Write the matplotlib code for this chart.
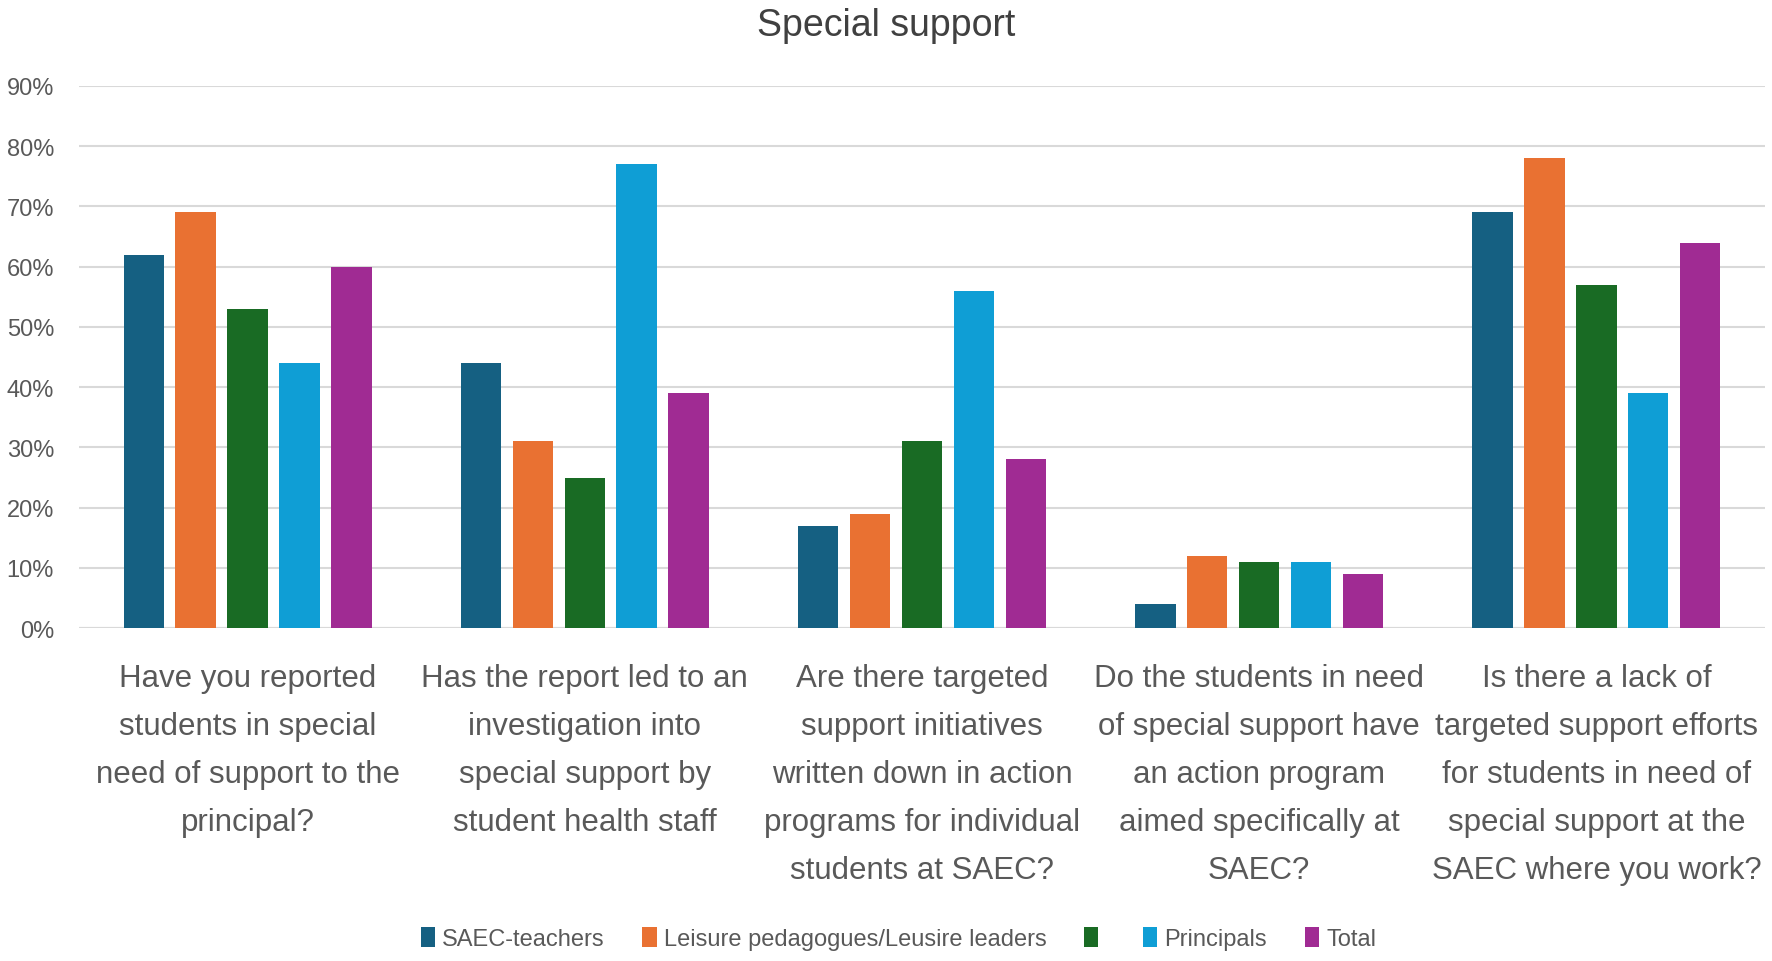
import numpy as np
import matplotlib
matplotlib.use("Agg")
import matplotlib.pyplot as plt
from matplotlib.ticker import PercentFormatter

plt.rcParams['font.family'] = ['Liberation Sans Narrow', 'Liberation Sans', 'DejaVu Sans']

questions = [
    "Have you reported\nstudents in special\nneed of support to the\nprincipal?",
    "Has the report led to an\ninvestigation into\nspecial support by\nstudent health staff",
    "Are there targeted\nsupport initiatives\nwritten down in action\nprograms for individual\nstudents at SAEC?",
    "Do the students in need\nof special support have\nan action program\naimed specifically at\nSAEC?",
    "Is there a lack of\ntargeted support efforts\nfor students in need of\nspecial support at the\nSAEC where you work?",
]
series_names = ["SAEC-teachers", "Leisure pedagogues/Leusire leaders", "", "Principals", "Total"]
saec_teachers = [0.62, 0.44, 0.17, 0.04, 0.69]
leisure = [0.69, 0.31, 0.19, 0.12, 0.78]
unnamed = [0.53, 0.25, 0.31, 0.11, 0.57]
principals = [0.44, 0.77, 0.56, 0.11, 0.39]
total = [0.60, 0.39, 0.28, 0.09, 0.64]
colors = ["#156082", "#E97132", "#196B24", "#0F9ED5", "#A02B93"]

all_series = [saec_teachers, leisure, unnamed, principals, total]
text_col = "#595959"

fig = plt.figure(figsize=(17.72, 9.62), dpi=100)
ax = fig.add_axes([0.0446, 0.346, 0.9514, 0.5636])

x = np.arange(len(questions))
width = 0.12
step = 0.154
handles = []
for i, vals in enumerate(all_series):
    bars = ax.bar(x + (i - 2) * step, vals, width, color=colors[i], zorder=3)
    handles.append(bars)

ax.set_xlim(-0.5, len(questions) - 0.5)
ax.set_ylim(0, 0.9)
ax.set_yticks(np.arange(0, 0.91, 0.1))
ax.yaxis.set_major_formatter(PercentFormatter(1.0, decimals=0))
ax.grid(axis='y', color='#d9d9d9', lw=1.5, zorder=0)
for s in ax.spines.values():
    s.set_visible(False)
ax.axhline(0, color='#d9d9d9', lw=1.5, zorder=2)
ax.tick_params(axis='y', length=0, labelsize=17, labelcolor=text_col, pad=18)
ax.set_xticks(x)
ax.set_xticklabels(questions, fontsize=22.5, color=text_col, linespacing=1.78)
ax.tick_params(axis='x', length=0, pad=25)

fig.suptitle("Special support", fontsize=27, color="#404040", y=0.992)

leg = fig.legend(handles, series_names, loc='center', bbox_to_anchor=(0.507, 0.023), ncol=5,
                 frameon=False, fontsize=17, handlelength=0.6, handleheight=0.9,
                 handletextpad=0.3, columnspacing=1.6)
for t in leg.get_texts():
    t.set_color(text_col)

fig.savefig("out.png", dpi=100, facecolor='white')
